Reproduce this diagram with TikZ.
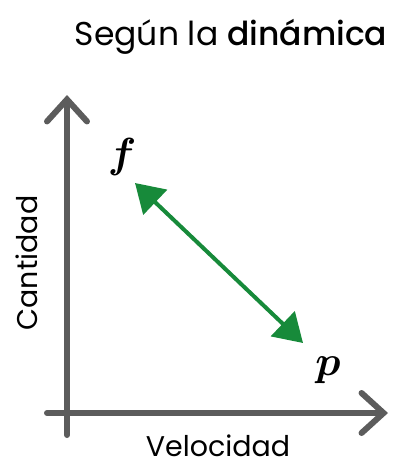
\documentclass[tikz,border=0pt]{standalone}
\usepackage{fontspec}
\usepackage{amsmath,amssymb,bm}
\setmainfont{Poppins}[BoldFont={Poppins Medium}]
\usetikzlibrary{arrows.meta}
\definecolor{axisgray}{HTML}{5C5C5C}
\definecolor{arrgreen}{HTML}{178A3A}
\tikzset{
  axisline/.style={draw=axisgray,line width=6pt,line cap=round,
    -{Straight Barb[length=22pt,width=40pt,line cap=round]}},
  relarrow/.style={draw=arrgreen,line width=4pt,
    {Triangle[length=28pt,width=34pt]}-{Triangle[length=28pt,width=34pt]}},
  lbl/.style={inner sep=0pt,font=\fontsize{28.5}{34}\selectfont},
  sym/.style={inner sep=0pt}
}
\begin{document}
\begin{tikzpicture}[x=1pt,y=-1pt]
\useasboundingbox (0,0) rectangle (397,463);
\coordinate (vbot) at (67,435);
\coordinate (vtop) at (67,95);
\coordinate (hleft) at (47,413);
\coordinate (hright) at (388,413);
\draw[axisline] (vbot) -- (vtop);
\draw[axisline] (hleft) -- (hright);
\coordinate (gA) at (135,183);
\coordinate (gB) at (303,343);
\draw[relarrow] (gA) -- (gB);
\node[sym] (f) at (122,157) {\scalebox{4.2}{$\bm{f}$}};
\node[sym] (p) at (328,370) {\scalebox{4.2}{$\bm{p}$}};
\node[lbl,rotate=90] (cant) at (27,263) {Cantidad};
\node[lbl,anchor=base,text depth=0pt] (vel) at (218,456) {Velocidad};
\node[inner sep=0pt,anchor=base,font=\fontsize{33}{38}\selectfont] (title) at (231,45) {Según la \textbf{dinámica}};
\end{tikzpicture}
\end{document}
